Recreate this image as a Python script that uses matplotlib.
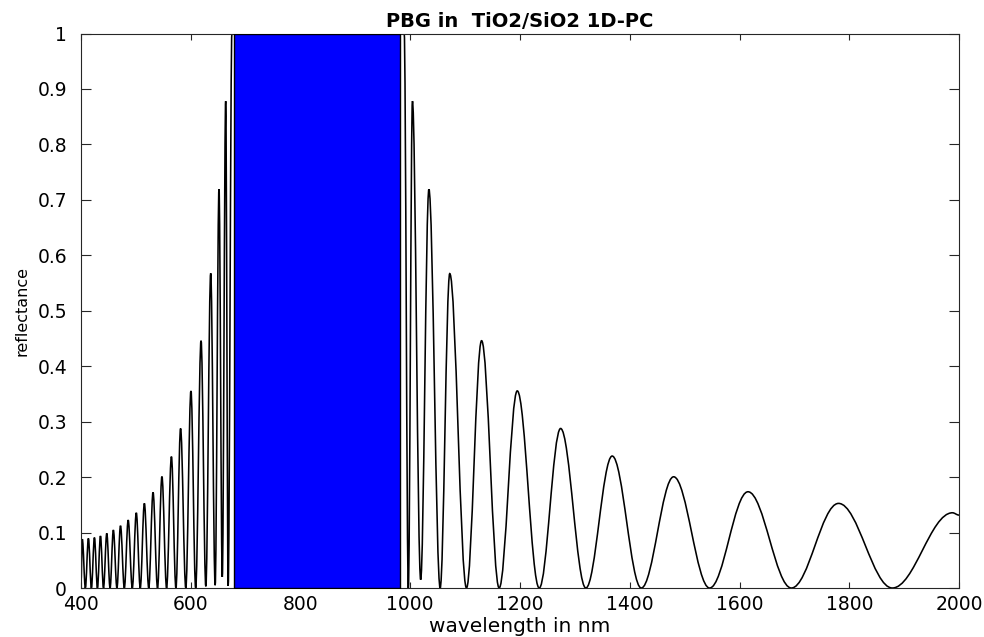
## reflectance of a TiO2/SiO2 quarter-wave stack, redrawn from the picture
import numpy as np
import matplotlib
matplotlib.use("Agg")
import matplotlib.pyplot as plt
from matplotlib.path import Path
from matplotlib.patches import PathPatch

## maxima of the curve (nm, reflectance)
peak_nm = [402.4, 413.5, 424.5, 435.5, 447, 459, 472, 486, 500.8, 515.5,
           531.3, 547.5, 564.8, 581.5, 600.4, 618.8, 636.4, 651.5, 663.7,
           1004, 1034, 1072, 1130, 1195, 1274, 1368, 1480, 1615.5, 1780.5, 1988]
peak_r = [0.088, 0.0895, 0.091, 0.094, 0.0985, 0.1045, 0.1123, 0.1225, 0.1357, 0.1526,
          0.1724, 0.201, 0.237, 0.2877, 0.3555, 0.446, 0.5676, 0.719, 0.878,
          0.878, 0.719, 0.567, 0.446, 0.3555, 0.2877, 0.238, 0.2006, 0.1736, 0.1526, 0.1357]

## minima of the curve
dip_nm = [408, 419, 430, 441, 453, 465.5, 479, 493.5, 508, 523.5,
          539.5, 556, 573, 591, 609, 627.5, 644.5, 657.5, 668.2,
          996.5, 1019, 1054.5, 1102.5, 1162, 1235, 1320, 1421, 1545.5, 1694.5, 1878.5]
dip_r = [0, 0, 0, 0, 0, 0, 0, 0, 0, 0,
         0, 0, 0, 0, 0, 0.003, 0.005, 0.02, 0.004,
         0, 0.015, 0, 0, 0, 0, 0, 0, 0, 0, 0]

## ends of the plotted range
end_nm = [400, 2000]
end_r = [0.01, 0.1315]

## stop band: R = 1 plateau, and the part shaded blue
plateau_nm = [675, 989]
gap_nm = [679, 982]

xticks = np.arange(400, 2001, 200)
yticks = np.round(np.arange(0, 1.01, 0.1), 1)

## join the extrema with smooth (bezier) lobes, straight along the plateau
pts = sorted(zip(peak_nm + dip_nm + end_nm + plateau_nm,
                 peak_r + dip_r + end_r + [1.0, 1.0]))
k = 0.364
verts = [pts[0]]
codes = [Path.MOVETO]
for (x0, y0), (x1, y1) in zip(pts[:-1], pts[1:]):
    if x0 == plateau_nm[0] and x1 == plateau_nm[1]:
        verts.append((x1, y1))
        codes.append(Path.LINETO)
    else:
        dx = x1 - x0
        verts += [(x0 + k*dx, y0), (x1 - k*dx, y1), (x1, y1)]
        codes += [Path.CURVE4]*3

plt.rcParams['font.family'] = ['DejaVu Sans']
fig = plt.figure(figsize=(9.84, 6.37), dpi=100)
ax = fig.add_axes([0.0823, 0.0769, 0.8923, 0.8705])

ax.add_patch(PathPatch(Path(verts, codes), fill=False, edgecolor='black', lw=1.15))
ax.fill_between(gap_nm, 0, 1, facecolor='#0000ff', edgecolor='black', lw=1.0, zorder=3)

ax.set_xlim(400, 2000)
ax.set_ylim(0, 1)
ax.set_xticks(xticks)
ax.set_yticks(yticks)
ax.set_yticklabels([f'{v:g}' for v in yticks])

col = '#262626'
for s in ax.spines.values():
    s.set_color(col)
    s.set_linewidth(0.8)
ax.tick_params(direction='in', top=True, right=True, colors=col,
               labelcolor='black', labelsize=13.5, width=0.8)
ax.tick_params(axis='x', length=4.5, pad=5)
ax.tick_params(axis='y', length=7, pad=10)

ax.set_title('PBG in  TiO2/SiO2 1D-PC', fontweight='bold', fontsize=14, pad=5)
ax.set_xlabel('wavelength in nm', fontsize=14.5, labelpad=2)
ax.set_ylabel('reflectance', fontsize=11.5, labelpad=6)

fig.savefig('out.png', dpi=100)
